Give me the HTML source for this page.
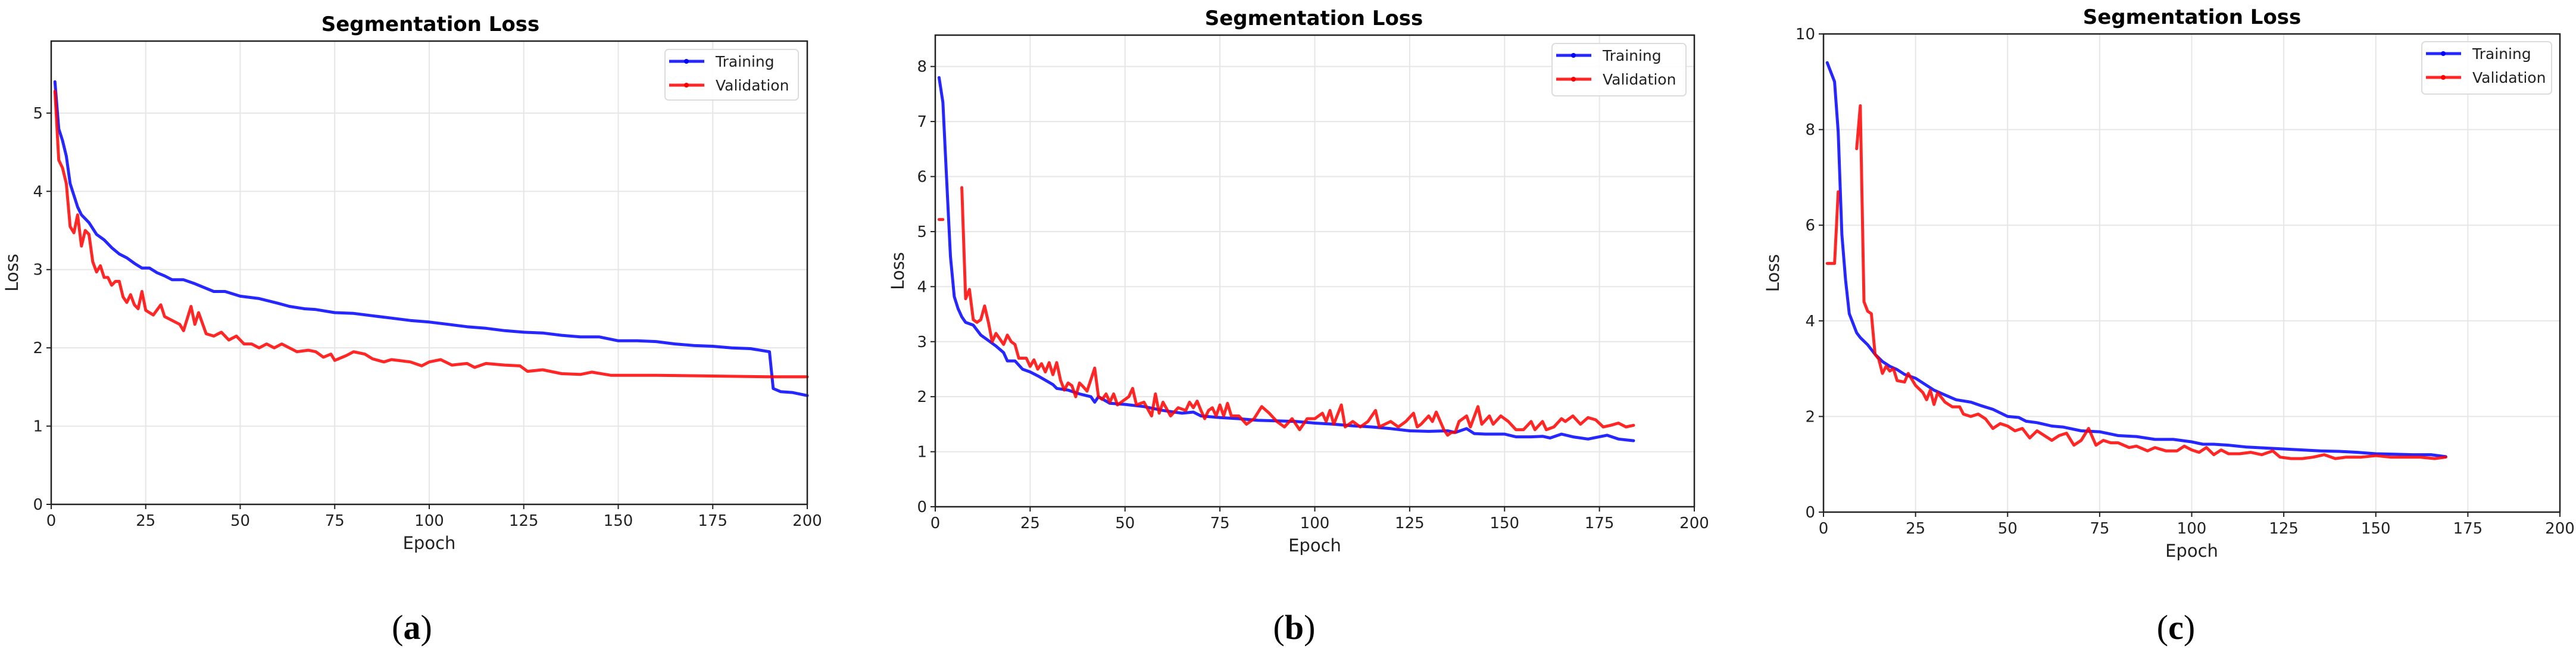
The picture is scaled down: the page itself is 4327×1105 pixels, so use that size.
<!DOCTYPE html>
<html><head><meta charset="utf-8"><style>
html,body{margin:0;padding:0;background:#fff;}
svg{display:block;font-family:"DejaVu Sans","Liberation Sans",sans-serif;}
</style></head><body>
<svg id="fig" width="4327" height="1105" viewBox="0 0 4327 1105"></svg>
<script>
// ---- Panel (a) data ----
const aTrainEpochs=[1,2,3,4,5,6,7,8,10,12,14,16,18,20,22,24,26,28,30,32,35,38,40,43,46,50,55,60,63,67,70,75,80,85,90,95,100,105,110,115,120,125,130,135,140,145,150,155,160,165,170,175,180,185,190,191,193,196,200];
const aTrainLoss=[5.4,4.8,4.65,4.45,4.1,3.95,3.8,3.7,3.6,3.45,3.38,3.28,3.2,3.15,3.08,3.02,3.02,2.96,2.92,2.87,2.87,2.82,2.78,2.72,2.72,2.66,2.63,2.57,2.53,2.5,2.49,2.45,2.44,2.41,2.38,2.35,2.33,2.3,2.27,2.25,2.22,2.2,2.19,2.16,2.14,2.14,2.09,2.09,2.08,2.05,2.03,2.02,2.0,1.99,1.95,1.48,1.44,1.43,1.39];
const aValEpochs=[1,2,3,4,5,6,7,8,9,10,11,12,13,14,15,16,17,18,19,20,21,22,23,24,25,27,29,30,32,34,35,37,38,39,41,43,45,47,49,51,53,55,57,59,61,63,65,68,70,72,74,75,78,80,83,85,88,90,95,98,100,103,106,110,112,115,120,124,126,130,135,140,143,148,160,175,190,200];
const aValLoss=[5.28,4.4,4.3,4.1,3.55,3.47,3.7,3.3,3.5,3.45,3.1,2.97,3.05,2.9,2.9,2.8,2.85,2.85,2.65,2.58,2.68,2.55,2.5,2.72,2.48,2.42,2.55,2.4,2.35,2.3,2.22,2.53,2.3,2.45,2.18,2.15,2.2,2.1,2.15,2.05,2.05,2.0,2.05,2.0,2.05,2.0,1.95,1.97,1.95,1.88,1.92,1.84,1.9,1.95,1.92,1.86,1.82,1.85,1.82,1.77,1.82,1.85,1.78,1.8,1.75,1.8,1.78,1.77,1.7,1.72,1.67,1.66,1.69,1.65,1.65,1.64,1.63,1.63];
const aYTicks=[0,1,2,3,4,5];
// ---- Panel (b) data ----
const bTrainEpochs=[1,2,3,4,5,6,7,8,10,12,14,16,18,19,21,23,25,27,29,31,32,35,38,41,42,43,46,50,55,60,65,68,70,75,80,85,90,95,100,105,110,115,120,125,130,135,137,140,142,145,150,153,157,160,162,165,168,172,177,180,184];
const bTrainLoss=[7.8,7.35,5.95,4.55,3.82,3.6,3.45,3.35,3.3,3.12,3.02,2.92,2.8,2.65,2.65,2.5,2.45,2.38,2.3,2.22,2.15,2.12,2.05,2.0,1.9,2.0,1.88,1.86,1.82,1.75,1.7,1.72,1.65,1.62,1.6,1.57,1.56,1.55,1.52,1.5,1.47,1.45,1.42,1.38,1.37,1.38,1.35,1.42,1.33,1.32,1.32,1.27,1.27,1.28,1.25,1.32,1.27,1.23,1.3,1.23,1.2];
const bValEpochs=[1,2,3,6,7,8,9,10,11,12,13,14,15,16,17,18,19,20,21,22,24,25,26,27,28,29,30,31,32,33,34,35,36,37,38,39,40,42,43,44,45,46,47,48,51,52,53,55,57,58,59,60,62,64,66,67,68,69,70,71,72,73,74,75,76,77,78,80,82,84,86,88,90,92,94,96,98,100,102,103,104,105,107,108,110,112,114,116,117,120,122,124,126,127,128,130,131,132,134,135,136,137,138,140,141,143,144,146,147,149,151,153,155,157,158,160,161,163,165,166,168,170,172,174,176,178,180,182,184];
const bValLoss=[5.22,5.22,null,null,5.8,3.78,3.95,3.4,3.35,3.4,3.65,3.35,3.0,3.15,3.05,2.95,3.12,3.0,2.95,2.7,2.7,2.55,2.67,2.5,2.6,2.45,2.62,2.4,2.62,2.3,2.12,2.25,2.2,2.0,2.25,2.18,2.1,2.52,2.0,1.95,2.05,1.9,2.05,1.85,2.0,2.15,1.85,1.9,1.65,2.05,1.7,1.9,1.65,1.8,1.75,1.9,1.8,1.92,1.75,1.6,1.75,1.8,1.65,1.85,1.65,1.88,1.65,1.65,1.5,1.6,1.82,1.7,1.55,1.45,1.6,1.4,1.6,1.6,1.7,1.55,1.75,1.5,1.85,1.45,1.55,1.45,1.55,1.75,1.45,1.55,1.45,1.55,1.7,1.45,1.5,1.65,1.55,1.72,1.4,1.3,1.35,1.35,1.55,1.65,1.45,1.82,1.5,1.65,1.5,1.65,1.55,1.4,1.4,1.55,1.4,1.55,1.4,1.45,1.6,1.55,1.65,1.5,1.62,1.58,1.45,1.48,1.52,1.45,1.48];
const bYTicks=[0,1,2,3,4,5,6,7,8];
// ---- Panel (c) data ----
const cTrainEpochs=[1,2,3,4,5,6,7,8,9,10,12,14,16,18,20,22,25,28,30,33,36,40,43,46,50,53,55,58,62,65,70,75,80,85,90,95,100,103,106,110,115,120,125,130,135,140,145,150,155,160,165,169];
const cTrainLoss=[9.4,9.2,9.0,7.95,5.8,4.85,4.15,3.95,3.75,3.65,3.5,3.3,3.15,3.05,2.98,2.88,2.8,2.65,2.55,2.45,2.35,2.3,2.22,2.15,2.0,1.98,1.9,1.87,1.8,1.78,1.7,1.68,1.6,1.58,1.52,1.52,1.47,1.42,1.42,1.4,1.36,1.34,1.32,1.3,1.28,1.27,1.25,1.22,1.21,1.2,1.2,1.16];
const cValEpochs=[1,2,3,4,5,9,10,11,12,13,14,15,16,17,18,19,20,22,23,25,27,28,29,30,31,33,35,37,38,40,42,44,46,48,50,52,54,56,58,60,62,64,66,68,70,72,74,76,78,80,83,85,88,90,93,96,98,100,102,104,106,108,110,113,116,119,122,124,127,130,133,136,139,142,146,150,154,158,162,166,169];
const cValLoss=[5.2,5.2,5.2,6.7,null,7.6,8.5,4.4,4.2,4.15,3.3,3.2,2.9,3.05,2.95,3.0,2.75,2.72,2.9,2.65,2.5,2.35,2.55,2.25,2.5,2.3,2.2,2.2,2.05,2.0,2.05,1.95,1.75,1.85,1.8,1.7,1.75,1.55,1.7,1.6,1.5,1.6,1.65,1.4,1.5,1.75,1.4,1.5,1.45,1.45,1.35,1.38,1.28,1.35,1.28,1.28,1.38,1.3,1.25,1.35,1.2,1.3,1.22,1.22,1.25,1.2,1.28,1.15,1.12,1.12,1.15,1.2,1.12,1.15,1.15,1.18,1.15,1.15,1.15,1.12,1.15];
const cYTicks=[0,2,4,6,8,10];
const xTicks=[0,25,50,75,100,125,150,175,200];
const seriesNames=["Training","Validation"];
const captions=["a","b","c"];

const NS="http://www.w3.org/2000/svg";
const svg=document.getElementById("fig");
function mk(tag,attrs,parent){const e=document.createElementNS(NS,tag);for(const k in attrs)e.setAttribute(k,attrs[k]);(parent||svg).appendChild(e);return e;}

const panels=[
 {id:"a",L:86,R:1356,T:69,B:847,ymax:5.92,yt:aYTicks,tr:[aTrainEpochs,aTrainLoss],va:[aValEpochs,aValLoss],tx:723,ty:52,lg:[1117,83,224,85],ylx:30,cap:692},
 {id:"b",L:1571,R:2846,T:59,B:851,ymax:8.57,yt:bYTicks,tr:[bTrainEpochs,bTrainLoss],va:[bValEpochs,bValLoss],tx:2207,ty:42,lg:[2607,73,225,88],ylx:1518,cap:2174},
 {id:"c",L:3063,R:4300,T:57,B:860,ymax:10,yt:cYTicks,tr:[cTrainEpochs,cTrainLoss],va:[cValEpochs,cValLoss],tx:3682,ty:40,lg:[4068,70,218,88],ylx:2988,cap:3655}
];

panels.forEach((p,pi)=>{
 const g=mk("g",{});
 
 
 const xs=v=>p.L+(v/200)*(p.R-p.L);
 const ys=v=>p.B-(v/p.ymax)*(p.B-p.T);
 xTicks.forEach(t=>{const l=mk("line",{x1:xs(t),x2:xs(t),y1:p.T,y2:p.B,stroke:"#e6e6e6","stroke-width":2},g);
  
  });
 p.yt.forEach(t=>{const l=mk("line",{x1:p.L,x2:p.R,y1:ys(t),y2:ys(t),stroke:"#e6e6e6","stroke-width":2},g);
  
  });
 const draw=(ser,color,name)=>{
  let d="",pen=false;
  ser[0].forEach((e,i)=>{const v=ser[1][i];if(v===null){pen=false;return;}
   d+=(pen?"L":"M")+xs(e).toFixed(1)+" "+ys(v).toFixed(1)+" ";pen=true;});
  const path=mk("path",{d:d,fill:"none",stroke:color,"stroke-width":5,"stroke-linejoin":"round","stroke-linecap":"round","stroke-opacity":0.85},g);
  
  
 };
 draw(p.tr,"#0000ff","training");
 draw(p.va,"#ff0000","validation");
 const fr=mk("rect",{x:p.L,y:p.T,width:p.R-p.L,height:p.B-p.T,fill:"none",stroke:"#222","stroke-width":2.5},g);
 
 
 xTicks.forEach(t=>{mk("line",{x1:xs(t),x2:xs(t),y1:p.B,y2:p.B+8,stroke:"#222","stroke-width":2},g);
  const tx=mk("text",{x:xs(t),y:p.B+36,"text-anchor":"middle","font-size":26,fill:"#222"},g);tx.textContent=t;
  
  });
 p.yt.forEach(t=>{mk("line",{x1:p.L-8,x2:p.L,y1:ys(t),y2:ys(t),stroke:"#222","stroke-width":2},g);
  const tx=mk("text",{x:p.L-14,y:ys(t)+9,"text-anchor":"end","font-size":26,fill:"#222"},g);tx.textContent=t;
  
  });
 const ti=mk("text",{x:p.tx,y:p.ty,"text-anchor":"middle","font-size":34,"font-weight":"bold",fill:"#000"},g);ti.textContent="Segmentation Loss";
 
 
 const xl=mk("text",{x:(p.L+p.R)/2,y:p.B+75,"text-anchor":"middle","font-size":29,fill:"#222"},g);xl.textContent="Epoch";
 
 
 const ym=(p.T+p.B)/2;
 const yl=mk("text",{x:p.ylx,y:ym,"text-anchor":"middle","font-size":29,fill:"#222",transform:`rotate(-90 ${p.ylx} ${ym})`},g);yl.textContent="Loss";
 
 
 const [lx,ly,lw,lh]=p.lg;
 const lb=mk("rect",{x:lx,y:ly,width:lw,height:lh,rx:6,fill:"#fff","fill-opacity":0.85,stroke:"#dcdcdc","stroke-width":2},g);
 
 
 seriesNames.forEach((n,i)=>{const yy=ly+20+i*40;const col=i?"#ff0000":"#0000ff";
  mk("line",{x1:lx+7,x2:lx+66,y1:yy,y2:yy,stroke:col,"stroke-width":5,"stroke-opacity":0.85},g);
  mk("circle",{cx:lx+36,cy:yy,r:4,fill:col},g);
  const t=mk("text",{x:lx+85,y:yy+9,"font-size":25,fill:"#222"},g);t.textContent=n;
  
  });
 const cp=mk("text",{x:p.cap,y:1073,"text-anchor":"middle","font-size":58,fill:"#000","font-family":"Liberation Serif, serif"},svg);
 cp.innerHTML='(<tspan font-weight="bold">'+captions[pi]+'</tspan>)';
 
 
});
</script>
</body></html>
